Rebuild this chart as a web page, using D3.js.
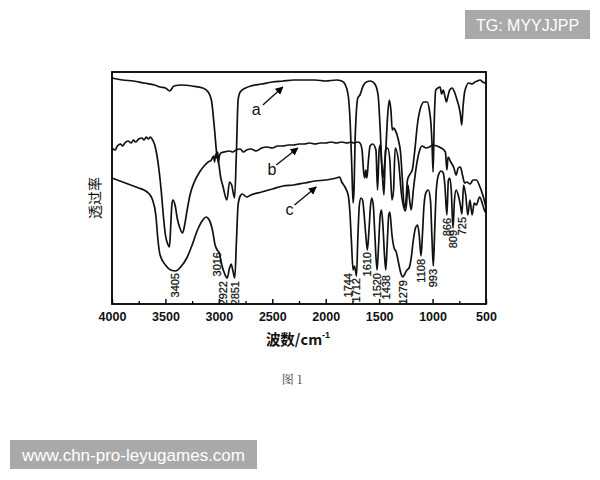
<!DOCTYPE html>
<html><head><meta charset="utf-8">
<script src="https://cdn.jsdelivr.net/npm/d3@7"></script>
<style>body{margin:0;background:#fff}</style>
</head><body><svg id="chart" width="600" height="480"></svg>
<script>
// ---- data (wavenumber cm-1, transmittance a.u.) ----
const xTicksMajor = [4000,3500,3000,2500,2000,1500,1000,500];
const xTicksMinor = [3750,3250,2750,2250,1750,1250,750];
const seriesNames = ["a","b","c"];
const specA = [[4000,226],[3900,224],[3800,223],[3700,221],[3600,219],[3550,217],[3500,216],[3460,213],[3420,218],[3350,219],[3250,218],[3150,216],[3100,212],[3070,204],[3040,174],[3020,150],[3000,140],[2985,128],[2960,117],[2925,104],[2900,122],[2880,119],[2853,106],[2835,154],[2820,204],[2800,212],[2750,216],[2700,218],[2600,220],[2500,222],[2400,223],[2300,224],[2200,224],[2100,224],[2000,223],[1900,224],[1850,223],[1820,220],[1790,209],[1770,179],[1755,134],[1744,101],[1735,114],[1725,164],[1715,189],[1700,206],[1680,209],[1650,218],[1620,222],[1580,223],[1540,220],[1510,209],[1490,174],[1475,139],[1465,126],[1455,134],[1440,150],[1420,189],[1405,204],[1390,194],[1377,174],[1365,176],[1350,174],[1320,164],[1300,152],[1280,120],[1265,96],[1250,102],[1235,124],[1210,130],[1190,134],[1170,150],[1140,181],[1110,197],[1080,202],[1050,202],[1030,194],[1015,180],[1005,160],[995,132],[985,180],[970,214],[950,216],[930,217],[915,210],[900,214],[885,208],[870,202],[860,206],[840,214],[817,216],[795,212],[771,204],[750,196],[740,190],[727,179],[715,197],[700,212],[690,216],[660,221],[630,220],[603,222],[580,223],[556,224],[530,222],[509,221],[500,222]];
const specB = [[4000,156],[3970,154],[3950,158],[3920,160],[3900,158],[3880,161],[3850,163],[3820,161],[3800,164],[3780,162],[3750,165],[3720,166],[3700,164],[3680,167],[3660,165],[3640,167],[3620,164],[3600,159],[3580,149],[3560,134],[3540,114],[3520,89],[3500,69],[3475,59],[3462,57],[3450,79],[3440,99],[3430,104],[3410,99],[3390,86],[3365,76],[3340,71],[3320,79],[3300,92],[3270,109],[3230,122],[3180,132],[3130,139],[3100,142],[3070,144],[3050,148],[3040,142],[3030,150],[3020,146],[3010,152],[3005,141],[2995,148],[2980,151],[2950,152],[2900,153],[2870,152],[2840,154],[2800,155],[2770,152],[2740,154],[2700,155],[2650,153],[2600,156],[2550,157],[2500,156],[2450,158],[2400,158],[2350,159],[2300,159],[2250,160],[2200,160],[2150,161],[2100,160],[2050,161],[2000,161],[1950,162],[1900,161],[1850,162],[1800,161],[1760,162],[1740,161],[1700,162],[1680,161],[1660,154],[1645,132],[1635,126],[1625,134],[1615,126],[1600,144],[1585,158],[1560,160],[1530,154],[1515,114],[1500,154],[1490,159],[1470,129],[1455,109],[1440,154],[1420,156],[1400,144],[1380,104],[1365,114],[1350,156],[1320,144],[1290,109],[1255,93],[1245,99],[1230,119],[1215,104],[1200,94],[1180,114],[1150,139],[1120,154],[1100,158],[1060,156],[1030,157],[1000,159],[960,158],[920,156],[880,152],[866,134],[855,147],[830,142],[800,136],[780,129],[760,136],[740,137],[720,129],[700,121],[680,122],[650,120],[620,124],[590,124],[560,118],[530,109],[505,99],[500,97]];
const specC = [[4000,126],[3950,124],[3900,122],[3850,120],[3800,118],[3750,116],[3700,114],[3660,111],[3620,104],[3590,89],[3570,64],[3550,49],[3500,39],[3450,34],[3405,33],[3350,38],[3300,46],[3250,59],[3200,74],[3150,84],[3120,87],[3090,84],[3060,74],[3035,59],[3016,54],[3000,52],[2970,38],[2945,30],[2922,26],[2900,36],[2885,40],[2870,34],[2851,26],[2835,64],[2820,99],[2800,108],[2780,110],[2740,107],[2700,109],[2600,112],[2500,115],[2400,118],[2300,119],[2200,121],[2100,123],[2000,124],[1900,126],[1870,127],[1850,122],[1820,117],[1790,109],[1775,94],[1760,64],[1744,34],[1730,38],[1712,28],[1700,64],[1685,99],[1670,106],[1655,104],[1640,89],[1625,69],[1610,54],[1595,74],[1580,99],[1570,106],[1555,99],[1540,69],[1520,34],[1505,59],[1490,89],[1478,94],[1465,79],[1450,49],[1438,34],[1425,59],[1410,89],[1400,92],[1380,69],[1360,56],[1340,52],[1320,42],[1300,32],[1279,27],[1260,30],[1240,34],[1220,36],[1200,46],[1180,64],[1160,76],[1140,79],[1125,69],[1108,48],[1095,69],[1080,99],[1060,112],[1040,114],[1020,104],[1005,64],[993,38],[980,74],[965,114],[945,129],[920,133],[900,131],[885,119],[866,89],[852,124],[840,126],[825,114],[809,76],[795,104],[780,114],[760,109],[740,99],[725,90],[710,119],[690,109],[670,89],[650,104],[630,89],[610,101],[590,99],[560,107],[530,99],[505,92],[500,94]];
const peakLabels = ["3405","3016","2922","2851","1744","1712","1610","1520","1438","1279","1108","993","866","809","725"];
const peakWaves  = [3405,3016,2922,2851,1744,1712,1610,1520,1438,1279,1108,993,866,809,725];
const peakLevels = [31,52,23,23,31,26,52,31,29,24,45,35,86,74,87];
const letterWaves  = [2650,2504,2339];
const letterLevels = [189,129,89];
const arrowFrom = [[2588,199],[2463,139],[2292,99]];
const arrowTo   = [[2401,217],[2261,156],[2089,117]];

// ---- drawing ----
const svg = d3.select("#chart");
const L=112, R=486, T=72, B=304;
const x = d3.scaleLinear().domain([4000,500]).range([L,R]);
const y = d3.scaleLinear().domain([0,232]).range([B,T]);
const latin = "Arial, 'Liberation Sans', Helvetica, sans-serif";
const cjk = "'Noto Sans CJK SC', 'Noto Sans', sans-serif";

svg.append("rect").attr("width",600).attr("height",480).attr("fill","#fff");

const defs = svg.append("defs");
defs.append("clipPath").attr("id","clip").append("rect")
  .attr("x",L).attr("y",T).attr("width",R-L).attr("height",B-T);
defs.append("marker").attr("id","arr").attr("viewBox","0 0 10 10")
  .attr("refX",9).attr("refY",5).attr("markerWidth",8).attr("markerHeight",8)
  .attr("markerUnits","userSpaceOnUse").attr("orient","auto")
  .append("path").attr("d","M0,0 L10,5 L0,10 Z").attr("fill","#000");

const line = d3.line().x(d=>x(d[0])).y(d=>y(d[1])).curve(d3.curveMonotoneX);
const g = svg.append("g").attr("clip-path","url(#clip)");
[specA,specB,specC].forEach(s=>{
  g.append("path").datum(s).attr("d",line).attr("fill","none")
   .attr("stroke","#111").attr("stroke-width",1.7).attr("stroke-linejoin","round");
});

// axes
const axMaj = d3.axisBottom(x).tickValues(xTicksMajor).tickSize(-5).tickPadding(8).tickFormat(d3.format("d"));
const gx = svg.append("g").attr("transform",`translate(0,${B})`).call(axMaj);
gx.select(".domain").remove();
gx.selectAll("line").attr("stroke","#000").attr("stroke-width",1.4);
gx.selectAll("text").attr("font-family",latin).attr("font-size",12.5).attr("font-weight","bold").attr("fill","#111");
const axMin = d3.axisBottom(x).tickValues(xTicksMinor).tickSize(-3).tickFormat("");
const gm = svg.append("g").attr("transform",`translate(0,${B})`).call(axMin);
gm.select(".domain").remove();
gm.selectAll("line").attr("stroke","#000").attr("stroke-width",1.3);

svg.append("rect").attr("x",L).attr("y",T).attr("width",R-L).attr("height",B-T)
  .attr("fill","none").attr("stroke","#000").attr("stroke-width",1.8);

// peak labels
const shift = {"2922":-4,"1744":-5};
peakLabels.forEach((t,i)=>{
  const cx = x(peakWaves[i]) + (shift[t]||0);
  svg.append("text").attr("transform",`translate(${cx+3.8},${y(peakLevels[i])}) rotate(-90)`)
    .attr("text-anchor","end").attr("font-family",latin).attr("font-size",11)
    .attr("fill","#111").attr("stroke","#111").attr("stroke-width",0.25).text(t);
});

// series letters and arrows
seriesNames.forEach((n,i)=>{
  svg.append("text").attr("x",x(letterWaves[i])).attr("y",y(letterLevels[i]))
    .attr("text-anchor","middle").attr("font-family",latin).attr("font-size",16).attr("fill","#111").text(n);
  svg.append("line").attr("x1",x(arrowFrom[i][0])).attr("y1",y(arrowFrom[i][1]))
    .attr("x2",x(arrowTo[i][0])).attr("y2",y(arrowTo[i][1]))
    .attr("stroke","#111").attr("stroke-width",1.4).attr("marker-end","url(#arr)");
});

// axis titles
const xt = svg.append("text").attr("x",298).attr("y",345).attr("text-anchor","middle")
  .attr("font-family",cjk).attr("font-size",14.5).attr("font-weight","bold").attr("fill","#111");
xt.append("tspan").text("波数/cm");
xt.append("tspan").attr("font-family",latin).attr("font-size",9).attr("dy",-7).text("-1");

svg.append("text").attr("transform","translate(100,198) rotate(-90)").attr("text-anchor","middle")
  .attr("font-family",cjk).attr("font-size",14).attr("fill","#111").text("透过率");

svg.append("text").attr("x",292).attr("y",384).attr("text-anchor","middle")
  .attr("font-family","'Noto Serif CJK SC','Noto Sans CJK SC',serif").attr("font-size",12).attr("fill","#444").text("图 1");

// watermark boxes
svg.append("rect").attr("x",465).attr("y",10).attr("width",125).attr("height",29).attr("fill","#a9a9a9");
svg.append("text").attr("x",527.5).attr("y",30.5).attr("text-anchor","middle")
  .attr("font-family",latin).attr("font-size",16).attr("fill","#fff").text("TG: MYYJJPP");
svg.append("rect").attr("x",10).attr("y",440).attr("width",247).attr("height",29).attr("fill","#a9a9a9");
svg.append("text").attr("x",133.5).attr("y",460.5).attr("text-anchor","middle")
  .attr("font-family",latin).attr("font-size",17).attr("fill","#fff").text("www.chn-pro-leyugames.com");
</script></body></html>
